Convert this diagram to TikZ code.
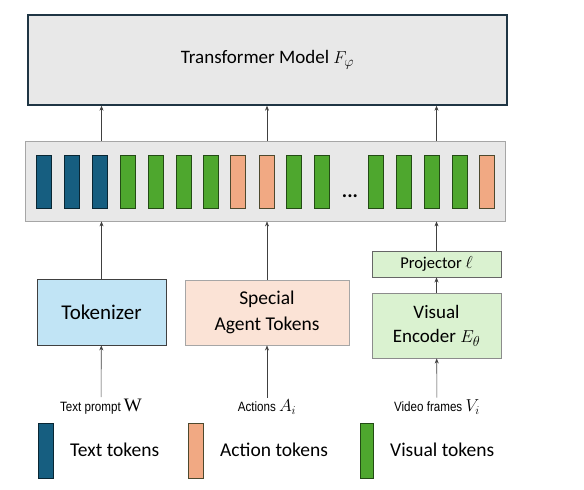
\documentclass[tikz,border=0pt]{standalone}
\usepackage{fontspec}
\setmainfont{Carlito}
\newfontfamily\labelfont[FakeStretch=0.86]{Liberation Sans}
\newfontfamily\wfont{Liberation Serif}
\usepackage{tikz}
\usetikzlibrary{arrows.meta}

\definecolor{txtblue}{HTML}{165E80}
\definecolor{actorange}{HTML}{F1A983}
\definecolor{visgreen}{HTML}{4EA72E}
\definecolor{panelgray}{HTML}{E8E8E8}
\definecolor{modelborder}{HTML}{1F3544}
\definecolor{tokfill}{HTML}{C1E4F5}
\definecolor{agentfill}{HTML}{FBE3D6}
\definecolor{encfill}{HTML}{DAF2D0}

\tikzset{
  box/.style={draw, inner sep=0pt, align=center},
  tok/.style={draw, line width=0.8pt, minimum width=15pt, minimum height=53pt, inner sep=0pt},
  txttok/.style={tok, fill=txtblue, draw=txtblue!40!black},
  acttok/.style={tok, fill=actorange, draw=olive!40!black},
  vistok/.style={tok, fill=visgreen, draw=visgreen!45!black},
  arr/.style={-{Stealth[length=5pt,width=4pt]}, draw=black!75, line width=0.6pt},
  inlabel/.style={font=\labelfont\fontsize{13.5}{16}\selectfont, inner sep=2pt},
  legtext/.style={anchor=west, font=\fontsize{19.5}{23}\selectfont, inner sep=0pt}
}

\begin{document}
\begin{tikzpicture}[x=1pt, y=-1pt]
			\useasboundingbox (0,0) rectangle (584,490);
			
			\node[box, fill=panelgray, draw=modelborder, line width=1.4pt, minimum width=479pt, minimum height=90pt, font=\fontsize{19}{23}\selectfont] (model)at(267.5,60) {Transformer Model $F_{\varphi}$};
			\node[box, fill=panelgray, draw=black!35, line width=0.8pt, minimum width=480pt, minimum height=80pt] (bar)at(265,181) {};
			
			\node[txttok] (t1)at(43.5,181.5) {};
			\node[txttok] (t2)at(71.5,181.5) {};
			\node[txttok] (t3)at(99.5,181.5) {};
			\node[vistok] (t4)at(127.5,181.5) {};
			\node[vistok] (t5)at(155.5,181.5) {};
			\node[vistok] (t6)at(183.5,181.5) {};
			\node[vistok] (t7)at(211,181.5) {};
			\node[acttok] (t8)at(238,181.5) {};
			\node[acttok] (t9)at(266.5,181.5) {};
			\node[vistok] (t10)at(293.5,181.5) {};
			\node[vistok] (t11)at(321.5,181.5) {};
			\node[font=\fontsize{20}{20}\selectfont\bfseries] (dots)at(350,196) {...};
			\node[vistok] (t12)at(375.5,181.5) {};
			\node[vistok] (t13)at(403.5,181.5) {};
			\node[vistok] (t14)at(431.5,181.5) {};
			\node[vistok] (t15)at(459.5,181.5) {};
			\node[acttok] (t16)at(487,181.5) {};
			
			\node[box, fill=tokfill, draw=black!75, line width=0.9pt, minimum width=129pt, minimum height=66pt, font=\fontsize{21}{25}\selectfont] (tokenizer)at(101.5,312) {Tokenizer};
			\node[box, fill=agentfill, draw=black!35, line width=0.9pt, minimum width=164pt, minimum height=65pt, font=\fontsize{19.5}{26}\selectfont] (agent)at(267,312.5) {Special\\Agent Tokens};
			\node[box, fill=encfill, draw=black!60, line width=0.9pt, minimum width=129pt, minimum height=26pt, font=\fontsize{16.5}{20}\selectfont] (projector)at(436.5,264) {Projector $\ell$};
			\node[box, fill=encfill, draw=black!45, line width=0.9pt, minimum width=129pt, minimum height=65pt, font=\fontsize{19}{24}\selectfont] (encoder)at(436.5,325.5) {Visual\\Encoder $E_{\theta}$};
			
			\node[inlabel] (prompt)at(101,407) {Text prompt {\wfont\fontsize{19}{19}\selectfont W}};
			\node[inlabel] (actions)at(267,407) {Actions \fontsize{17}{17}\selectfont$A_i$};
			\node[inlabel] (frames)at(437,407) {Video frames \fontsize{17}{17}\selectfont$V_i$};
			
			\draw[arr] (prompt) -- (tokenizer);
			\draw[arr] (actions) -- (agent);
			\draw[arr] (frames) -- (encoder);
			\draw[arr] (encoder) -- (projector);
			\draw[arr] (tokenizer) -- (tokenizer |- bar.south);
			\draw[arr] (agent) -- (agent |- bar.south);
			\draw[arr] (projector) -- (projector |- bar.south);
			\draw[arr] (tokenizer |- bar.north) -- (tokenizer |- model.south);
			\draw[arr] (agent |- bar.north) -- (agent |- model.south);
			\draw[arr] (projector |- bar.north) -- (projector |- model.south);
			
			\node[txttok, minimum height=55pt] (legtxt)at(45.5,450.5) {};
			\node[acttok, minimum height=55pt] (legact)at(195.5,450.5) {};
			\node[vistok, minimum width=13pt, minimum height=55pt] (legvis)at(366.5,450.5) {};
			\node[legtext] (legtxtlabel)at(70,450) {Text tokens};
			\node[legtext] (legactlabel)at(220,450) {Action tokens};
			\node[legtext] (legvislabel)at(390,450) {Visual tokens};
		\end{tikzpicture}
\end{document}
